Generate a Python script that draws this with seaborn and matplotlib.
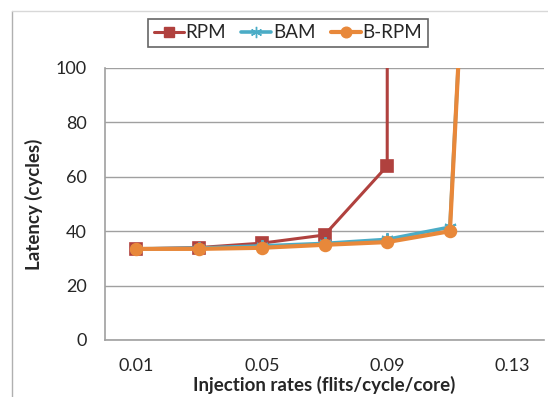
import matplotlib
matplotlib.use("Agg")
import matplotlib.pyplot as plt
import seaborn as sns
import pandas as pd
from matplotlib.lines import Line2D

sns.set_style("white")
plt.rcParams['font.family'] = ['Lato', 'DejaVu Sans']

# Data
rpm_x = [0.01, 0.03, 0.05, 0.07, 0.09, 0.0901]
rpm_y = [33.5, 34.0, 35.6, 38.6, 64.0, 400.0]
bam_x = [0.01, 0.03, 0.05, 0.07, 0.09, 0.11, 0.1135]
bam_y = [33.5, 33.8, 34.6, 35.5, 37.0, 41.5, 120.0]
brpm_x = [0.01, 0.03, 0.05, 0.07, 0.09, 0.11, 0.1135]
brpm_y = [33.5, 33.5, 33.9, 35.0, 36.0, 40.0, 120.0]
x_labels = ["0.01", "0.05", "0.09", "0.13"]
x_label_pos = [0.01, 0.05, 0.09, 0.13]
y_ticks = [0, 20, 40, 60, 80, 100]

colors = {"RPM": "#B0413E", "BAM": "#4BACC6", "B-RPM": "#E8883A"}

df = pd.concat([
    pd.DataFrame({"x": rpm_x, "y": rpm_y, "series": "RPM"}),
    pd.DataFrame({"x": bam_x, "y": bam_y, "series": "BAM"}),
    pd.DataFrame({"x": brpm_x, "y": brpm_y, "series": "B-RPM"}),
])

fig = plt.figure(figsize=(5.48, 3.97), dpi=100)
ax = fig.add_axes([105/548, 57/397, 439/548, 272/397])

# chart-area frame (left and top edges visible in the reference)
fig.add_artist(Line2D([12/548, 12/548], [0, 1 - 11/397], transform=fig.transFigure, color='#B0B0B0', lw=1))
fig.add_artist(Line2D([12/548, 1], [1 - 11/397, 1 - 11/397], transform=fig.transFigure, color='#D8D8D8', lw=1))

markers = {"RPM": "s", "BAM": (6, 2, 0), "B-RPM": "o"}
sizes = {"RPM": 8, "BAM": 9, "B-RPM": 8.5}
lws = {"RPM": 2.2, "BAM": 2.6, "B-RPM": 3.0}
for name in ["RPM", "BAM", "B-RPM"]:
    sub = df[df.series == name]
    sns.lineplot(data=sub, x="x", y="y", ax=ax, sort=False, color=colors[name],
                 marker=markers[name], markersize=sizes[name], linewidth=lws[name],
                 markeredgecolor=colors[name], markeredgewidth=1.2 if name != "BAM" else 1.5,
                 estimator=None, legend=False)

ax.set_xlim(0, 0.14)
ax.set_ylim(0, 100)
ax.set_yticks(y_ticks)
ax.set_yticklabels([str(v) for v in y_ticks], fontsize=13)
ax.set_xticks([0, 0.02, 0.04, 0.06, 0.08, 0.10, 0.12, 0.14])
ax.set_xticklabels([])
ax.set_xticks(x_label_pos, minor=True)
ax.set_xticklabels(x_labels, minor=True, fontsize=13)
ax.tick_params(axis='x', which='major', direction='out', length=6, color='#A0A0A0', width=1)
ax.tick_params(axis='x', which='minor', length=0, pad=13)
ax.tick_params(axis='y', direction='out', length=6, color='#A0A0A0', width=1, pad=7)

ax.grid(axis='y', color='#A0A0A0', linewidth=1)
ax.grid(axis='x', visible=False)
for s in ['top', 'right']:
    ax.spines[s].set_visible(False)
for s in ['left', 'bottom']:
    ax.spines[s].set_color('#A0A0A0')
    ax.spines[s].set_linewidth(1.2)

ax.set_xlabel("Injection rates (flits/cycle/core)", fontsize=13.5, fontweight='bold', labelpad=1)
ax.set_ylabel("Latency (cycles)", fontsize=13.5, fontweight='bold', labelpad=9)

handles = [Line2D([], [], color=colors[n], marker=markers[n], markersize=sizes[n] * 0.9,
                  linewidth=lws[n], markeredgecolor=colors[n]) for n in ["RPM", "BAM", "B-RPM"]]
leg = fig.legend(handles, ["RPM", "BAM", "B-RPM"], loc='center', bbox_to_anchor=(288/548, 1 - 33/397),
                 ncol=3, frameon=True, fancybox=False, fontsize=13.5, handlelength=1.6,
                 handletextpad=0.1, columnspacing=0.8, borderpad=0.3, borderaxespad=0)
leg.get_frame().set_edgecolor('#404040')
leg.get_frame().set_linewidth(1.2)

fig.savefig("out.png", dpi=100)
